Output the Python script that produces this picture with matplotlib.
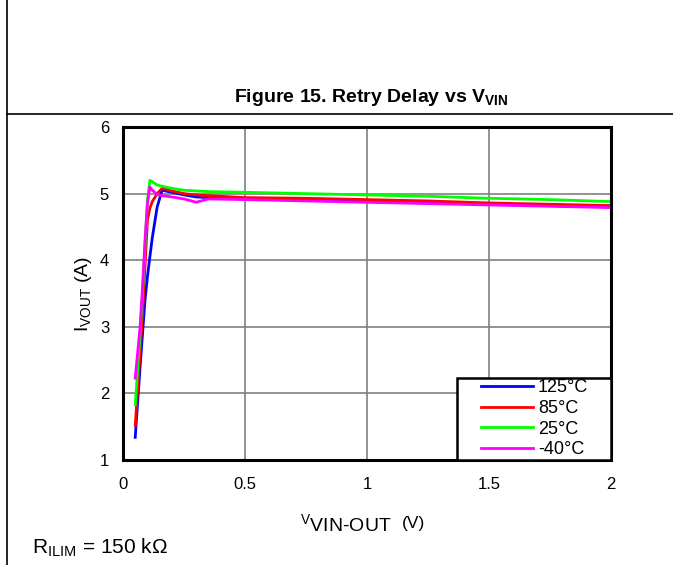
import matplotlib
matplotlib.use("Agg")
import matplotlib.pyplot as plt
from matplotlib.lines import Line2D
from matplotlib.patches import Rectangle

plt.rcParams['font.family'] = ['Liberation Sans', 'DejaVu Sans']
plt.rcParams['mathtext.fontset'] = 'custom'
plt.rcParams['mathtext.rm'] = 'Liberation Sans'
plt.rcParams['mathtext.bf'] = 'Liberation Sans:bold'

# V(VIN-OUT) sample points, shared by all curves
v_in_out = [0.05, 0.07, 0.08, 0.09, 0.10, 0.11, 0.12, 0.14, 0.16, 0.2,
            0.25, 0.3, 0.35, 0.5, 0.75, 1.0, 1.25, 1.5, 1.75, 2.0]

i_125 = [1.34, 2.4, 2.9, 3.4, 3.75, 4.05, 4.34, 4.8, 5.05, 5.02,
         4.98, 4.95, 4.94, 4.92, 4.90, 4.88, 4.86, 4.84, 4.82, 4.80]
i_85 = [1.52, 2.6, 3.2, 3.9, 4.6, 4.78, 4.88, 5.0, 5.08, 5.04,
        5.0, 4.98, 4.97, 4.94, 4.93, 4.91, 4.89, 4.86, 4.84, 4.82]
i_25 = [1.83, 2.9, 3.5, 4.2, 4.9, 5.2, 5.18, 5.13, 5.11, 5.08,
        5.05, 5.04, 5.03, 5.02, 5.0, 4.98, 4.96, 4.93, 4.91, 4.88]
i_m40 = [2.23, 3.0, 3.6, 4.3, 4.85, 5.1, 5.05, 4.99, 4.97, 4.95,
         4.92, 4.87, 4.92, 4.91, 4.89, 4.87, 4.85, 4.83, 4.81, 4.79]

labels = ["125°C", "85°C", "25°C", "-40°C"]
colors = ["#0000ff", "#ff0000", "#00ff00", "#ff00ff"]

x_ticks = [0, 0.5, 1, 1.5, 2]
x_tick_labels = ["0", "0.5", "1", "1.5", "2"]
y_ticks = [1, 2, 3, 4, 5, 6]


def main():
    fig = plt.figure(figsize=(6.73, 5.65), dpi=100)

    # page frame lines
    fig.add_artist(Line2D([0.011, 0.011], [0, 1], color="black", lw=1.2,
                          transform=fig.transFigure))
    fig.add_artist(Line2D([0.011, 1], [0.798, 0.798], color="black", lw=1.2,
                          transform=fig.transFigure))

    fig.text(0.551, 0.828, r"Figure 15. Retry Delay vs V$_{\mathbf{VIN}}$",
             ha="center", va="center", fontsize=14, fontweight="bold")

    ax = fig.add_axes([0.1828, 0.1858, 0.7251, 0.5894])
    for vals, lab, col in zip([i_125, i_85, i_25, i_m40], labels, colors):
        ax.plot(v_in_out, vals, color=col, lw=2, label=lab)

    ax.set_xlim(0, 2)
    ax.set_ylim(1, 6)
    ax.set_xticks(x_ticks)
    ax.set_xticklabels(x_tick_labels)
    ax.set_yticks(y_ticks)
    ax.tick_params(length=0, labelsize=12)
    ax.tick_params(axis="x", pad=12)
    ax.tick_params(axis="y", pad=10)
    ax.grid(True, color="#808080", lw=1.2)
    for sp in ax.spines.values():
        sp.set_linewidth(2.2)
        sp.set_color("black")

    # x label: small raised V, large VIN-OUT, raised (V)
    ax.text(0.457, -0.216, r"${}^{\mathrm{V}}\mathrm{VIN\text{-}OUT}$",
            transform=ax.transAxes, ha="center", va="baseline", fontsize=14)
    ax.text(0.596, -0.203, "(V)", transform=ax.transAxes, ha="center",
            va="baseline", fontsize=12.5)
    ax.set_ylabel(r"I$_{\mathrm{VOUT}}$ (A)", fontsize=14, labelpad=4)

    # legend box sits in the lower right corner, wider than its content
    box = Rectangle((0.684, 0.0), 0.316, 0.246, transform=ax.transAxes,
                    facecolor="white", edgecolor="black", lw=1.8, zorder=4,
                    clip_on=False)
    ax.add_patch(box)
    leg = ax.legend(loc="center", bbox_to_anchor=(0.843, 0.124), frameon=False,
                    fontsize=13, handlelength=2.9, handletextpad=0.28,
                    labelspacing=0.2, borderpad=0)
    leg.set_zorder(5)

    fig.text(0.047, 0.03, r"R$_{\mathrm{ILIM}}$ = 150 kΩ", fontsize=15,
             ha="left", va="center")

    fig.savefig("out.png", dpi=100)


if __name__ == "__main__":
    main()
